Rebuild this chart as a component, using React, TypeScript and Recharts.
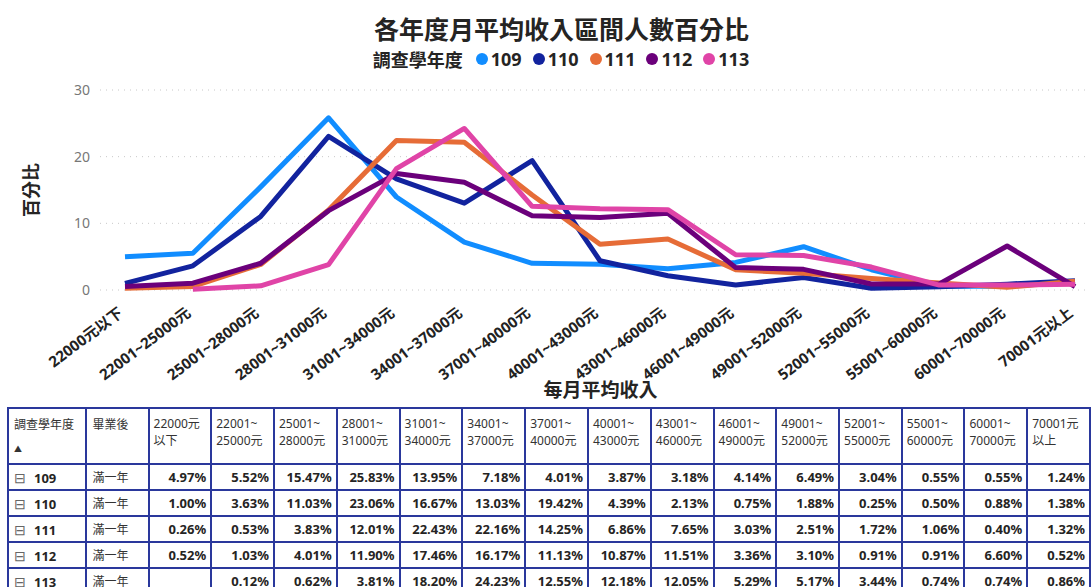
import React from 'react';
import { LineChart, Line, XAxis, YAxis, CartesianGrid, Legend, Label } from 'recharts';

const categories = [
  '22000元以下', '22001~25000元', '25001~28000元', '28001~31000元', '31001~34000元',
  '34001~37000元', '37001~40000元', '40001~43000元', '43001~46000元', '46001~49000元',
  '49001~52000元', '52001~55000元', '55001~60000元', '60001~70000元', '70001元以上',
];
const headerLabels = [
  ['22000元', '以下'], ['22001~', '25000元'], ['25001~', '28000元'], ['28001~', '31000元'],
  ['31001~', '34000元'], ['34001~', '37000元'], ['37001~', '40000元'], ['40001~', '43000元'],
  ['43001~', '46000元'], ['46001~', '49000元'], ['49001~', '52000元'], ['52001~', '55000元'],
  ['55001~', '60000元'], ['60001~', '70000元'], ['70001元', '以上'],
];
const years = ['109', '110', '111', '112', '113'];
const colors = ['#118DFF', '#12239E', '#E66C37', '#6B007B', '#E044A7'];
const yTicks = [0, 10, 20, 30];

const s109 = [4.97, 5.52, 15.47, 25.83, 13.95, 7.18, 4.01, 3.87, 3.18, 4.14, 6.49, 3.04, 0.55, 0.55, 1.24];
const s110 = [1.0, 3.63, 11.03, 23.06, 16.67, 13.03, 19.42, 4.39, 2.13, 0.75, 1.88, 0.25, 0.5, 0.88, 1.38];
const s111 = [0.26, 0.53, 3.83, 12.01, 22.43, 22.16, 14.25, 6.86, 7.65, 3.03, 2.51, 1.72, 1.06, 0.4, 1.32];
const s112 = [0.52, 1.03, 4.01, 11.9, 17.46, 16.17, 11.13, 10.87, 11.51, 3.36, 3.1, 0.91, 0.91, 6.6, 0.52];
const s113 = [null, 0.12, 0.62, 3.81, 18.2, 24.23, 12.55, 12.18, 12.05, 5.29, 5.17, 3.44, 0.74, 0.74, 0.86];

const series: (number | null)[][] = [s109, s110, s111, s112, s113];

const data = categories.map((c, i) => {
  const row: any = { name: c };
  years.forEach((y, k) => { row[y] = series[k][i]; });
  return row;
});

const font = "'Noto Sans', 'Noto Sans CJK TC', sans-serif";

const XTick = (props: any) => {
  const { x, y, payload } = props;
  return (
    <g transform={`translate(${x - 1},${y + 17})`}>
      <text x={0} y={0} textAnchor="end" transform="rotate(-37)" fontSize={15} fontWeight={700} fill="#222" fontFamily={font}>
        {payload.value}
      </text>
    </g>
  );
};

const renderLegend = () => (
  <div style={{ display: 'flex', justifyContent: 'center', alignItems: 'center', fontFamily: font, fontWeight: 700, fontSize: 18, color: '#252423', paddingLeft: 42 }}>
    <span style={{ marginRight: 13 }}>調查學年度</span>
    {years.map((y, i) => (
      <span key={y} style={{ display: 'inline-flex', alignItems: 'center', marginRight: 11 }}>
        <span style={{ width: 12, height: 12, borderRadius: 6, background: colors[i], marginRight: 3, display: 'inline-block' }} />
        {y}
      </span>
    ))}
  </div>
);

const cellBorder = '2px solid #2a389c';

export default function App() {
  return (
    <div style={{ position: 'absolute', left: 0, top: 0, width: 1091, height: 587, overflow: 'hidden', background: '#fff', fontFamily: font }}>
      <div style={{ position: 'absolute', top: 10, left: 0, width: 1091, paddingLeft: 32, boxSizing: 'border-box', textAlign: 'center', fontSize: 25, fontWeight: 700, color: '#252423' }}>
        各年度月平均收入區間人數百分比
      </div>
      <LineChart width={1091} height={406} data={data} margin={{ top: 64, right: 6, left: 0, bottom: 0 }}>
        <CartesianGrid vertical={false} stroke="#c8c8c8" strokeDasharray="1 5" />
        <XAxis dataKey="name" axisLine={false} tickLine={false} height={116} interval={0} tick={<XTick />} padding={{ left: 25, right: 10 }}>
          <Label value="每月平均收入" position="insideBottom" offset={9} dx={8} style={{ fontSize: 19, fontWeight: 700, fill: '#252423', fontFamily: font }} />
        </XAxis>
        <YAxis width={100} domain={[0, 30]} ticks={yTicks} axisLine={false} tickLine={false} tick={{ fontSize: 14, fill: '#777', fontFamily: font }} tickMargin={4}>
          <Label value="百分比" angle={-90} position="insideLeft" offset={32} style={{ fontSize: 18, fontWeight: 700, fill: '#252423', fontFamily: font, textAnchor: 'middle' }} />
        </YAxis>
        <Legend verticalAlign="top" content={renderLegend} wrapperStyle={{ top: 46, left: 0, width: 1091 }} />
        {years.map((y, i) => (
          <Line key={y} dataKey={y} stroke={colors[i]} strokeWidth={5} dot={false} activeDot={false} type="linear" strokeLinejoin="round" isAnimationActive={false} />
        ))}
      </LineChart>
      <table style={{ position: 'absolute', top: 407, left: 7, borderCollapse: 'collapse', tableLayout: 'fixed', fontSize: 12, color: '#333' }}>
        <colgroup>
          <col style={{ width: 79 }} />
          <col style={{ width: 63 }} />
          {headerLabels.map((_, i) => <col key={i} style={{ width: 63 }} />)}
        </colgroup>
        <thead>
          <tr style={{ height: 56 }}>
            <th style={{ border: cellBorder, textAlign: 'left', verticalAlign: 'top', fontWeight: 400, padding: '6px 5px' }}>
              調查學年度
              <div style={{ fontSize: 8, marginTop: 10 }}>▲</div>
            </th>
            <th style={{ border: cellBorder, textAlign: 'left', verticalAlign: 'top', fontWeight: 400, padding: '6px 5px' }}>畢業後</th>
            {headerLabels.map((h, i) => (
              <th key={i} style={{ border: cellBorder, textAlign: 'left', verticalAlign: 'top', fontWeight: 400, padding: '6px 4px', lineHeight: '17px' }}>
                {h[0]}<br />{h[1]}
              </th>
            ))}
          </tr>
        </thead>
        <tbody>
          {years.map((y, k) => (
            <tr key={y} style={{ height: 26 }}>
              <td style={{ border: cellBorder, padding: '0 5px', fontSize: 13, fontWeight: 700, color: '#252423' }}>
                <span style={{ fontSize: 14, fontWeight: 400, color: '#666', marginRight: 8 }}>⊟</span>
                {y}
              </td>
              <td style={{ border: cellBorder, padding: '0 5px', fontSize: 12 }}>滿一年</td>
              {series[k].map((v, i) => (
                <td key={i} style={{ border: cellBorder, padding: '0 4px', textAlign: 'right', fontSize: 13, fontWeight: 700, color: '#252423' }}>
                  {v == null ? '' : `${v.toFixed(2)}%`}
                </td>
              ))}
            </tr>
          ))}
        </tbody>
      </table>
    </div>
  );
}
